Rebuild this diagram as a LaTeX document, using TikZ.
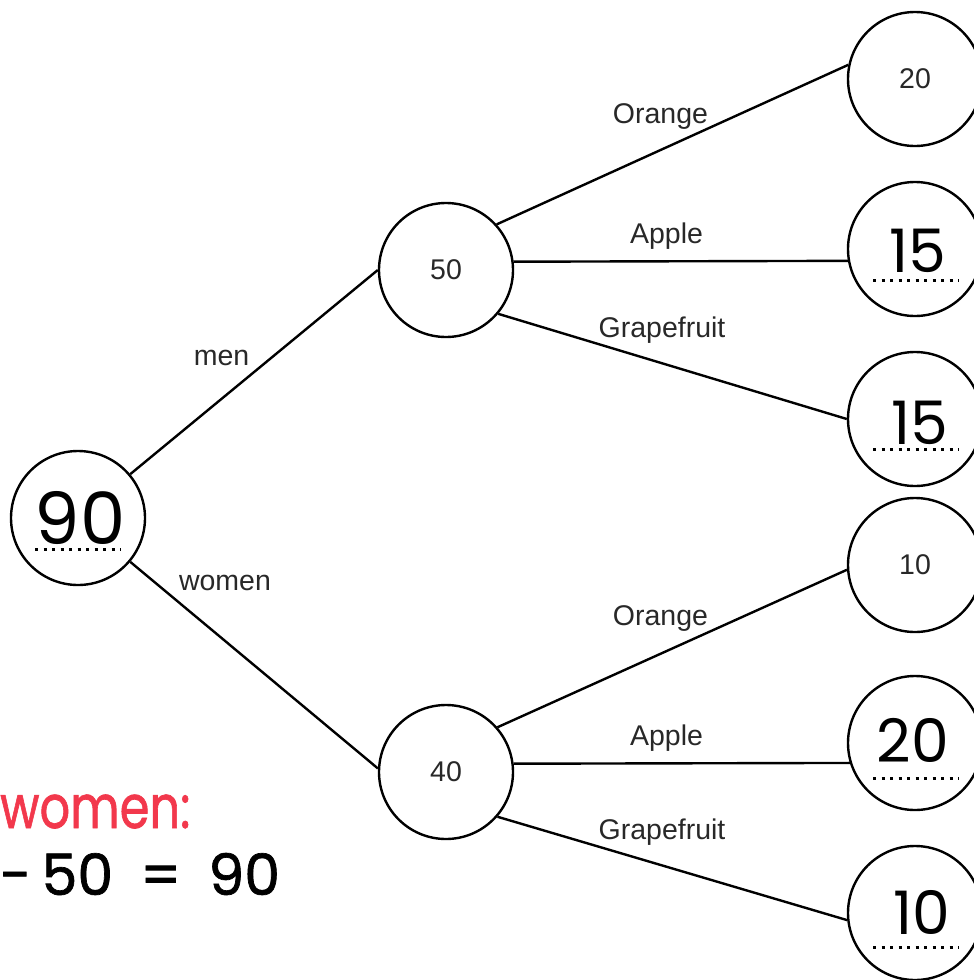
\documentclass[tikz,border=0pt]{standalone}
\usepackage{fontspec}
\setmainfont{Liberation Sans}
\newfontfamily\hand{Poppins}
\newfontfamily\handheavy[FakeBold=1.2]{Poppins}
\definecolor{handred}{RGB}{242,56,76}
\definecolor{labelgray}{RGB}{40,40,40}
\begin{document}
\begin{tikzpicture}[x=1pt,y=-1pt,
  st/.style={circle,draw=black,line width=2.4pt,minimum size=134pt,inner sep=0pt,
    font=\fontsize{28.5}{30}\selectfont,text=labelgray},
  edge/.style={line width=2.4pt},
  lbl/.style={anchor=base,inner sep=0pt,font=\fontsize{28.5}{30}\selectfont,text=labelgray},
  hw/.style={inner sep=0pt,font=\hand\fontsize{60}{60}\selectfont},
  dots/.style={line width=3pt,dash pattern=on 3pt off 5.5pt}]
\useasboundingbox (0,0) rectangle (974,980);
\clip (0,0) rectangle (974,980);

% tree nodes
\node[st] (root) at (78,518) {};
\node[st] (m)  at (446,270) {50};
\node[st] (w)  at (446,772) {40};
\node[st] (mo) at (915,79)  {20};
\node[st] (ma) at (915,249) {};
\node[st] (mg) at (915,419) {};
\node[st] (wo) at (915,565) {10};
\node[st] (wa) at (915,743) {};
\node[st] (wg) at (915,913) {};

% branches
\draw[edge] (root.40) -- (m.180);
\draw[edge] (root.-40) -- (w.177);
\draw[edge] (m.42) -- (mo.168);
\draw[edge] (m.7) -- (ma.190);
\draw[edge] (m.-40) -- (mg.180);
\draw[edge] (w.41) -- (wo.184);
\draw[edge] (w.7) -- (wa.197);
\draw[edge] (w.-41) -- (wg.186);

% branch labels
\node[lbl] (lmen)   at (221.5,365) {men};
\node[lbl] (lwomen) at (225,590) {women};
\node[lbl] (lmo) at (660.5,123) {Orange};
\node[lbl] (lma) at (666.5,243) {Apple};
\node[lbl] (lmg) at (662,337) {Grapefruit};
\node[lbl] (lwo) at (660.5,625) {Orange};
\node[lbl] (lwa) at (666.5,745) {Apple};
\node[lbl] (lwg) at (662,839) {Grapefruit};

% filled-in answers
\node[hw,font=\hand\fontsize{72}{72}\selectfont] (a90) at (80,518) {90};
\draw[dots] (35,549) -- (121,549);
\node[hw] (a15a) at (918,251) {15};
\draw[dots] (873,280) -- (959,280);
\node[hw] (a15b) at (920,423) {15};
\draw[dots] (873,449) -- (959,449);
\node[hw] (a20) at (913,740) {20};
\draw[dots] (873,778) -- (959,778);
\node[hw] (a10) at (922,912) {10};
\draw[dots] (873,947) -- (959,947);

% side working
\node[hw,anchor=base west,text=handred,font=\handheavy\fontsize{60}{60}\selectfont,xscale=0.8] (wk1) at (0,828) {women:};
\node[hw,anchor=base west,font=\handheavy\fontsize{57}{57}\selectfont] (wk2) at (0,895) {-\kern10pt50\kern27pt=\kern27pt90};
\end{tikzpicture}
\end{document}
